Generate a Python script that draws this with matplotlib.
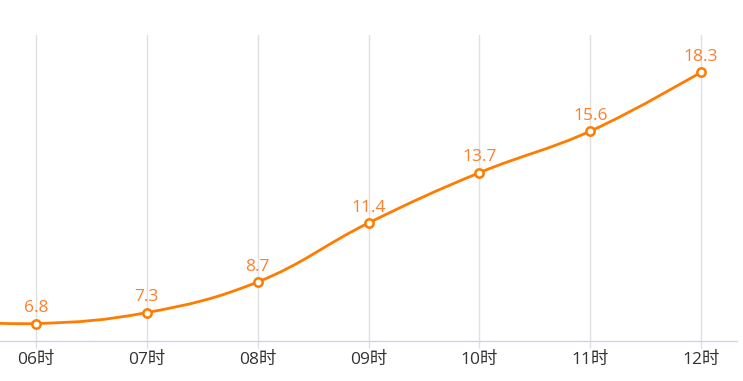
import numpy as np
import matplotlib
matplotlib.use("Agg")
import matplotlib.pyplot as plt
from matplotlib.path import Path
from matplotlib.patches import PathPatch

plt.rcParams['font.family'] = ['Open Sans', 'Noto Sans CJK SC', 'DejaVu Sans']

# Data
hidden_label = "05时"
hidden_value = 7.0          # point just outside the visible window on the left
categories = ["06时", "07时", "08时", "09时", "10时", "11时", "12时"]
values = [6.8, 7.3, 8.7, 11.4, 13.7, 15.6, 18.3]

LINE = "#ff7c00"
LABEL = "#ff7f2a"
GRID = "#e0e0e0"
AXIS = "#ccd6eb"

W, H = 743, 381
fig = plt.figure(figsize=(W / 100, H / 100), dpi=100)
ax = fig.add_axes([0, 1 - 341 / H, 737 / W, (341 - 35) / H])

n = len(categories)
pad = 0.324
ax.set_xlim(-pad, n - 1 + pad)
ax.set_ylim(6, 20)

all_x = np.arange(-1, n)
all_y = np.array([hidden_value] + values)

# Highcharts-like spline computed in display space
fig.canvas.draw()
pts = ax.transData.transform(np.column_stack([all_x, all_y]))
sm = 1.5
den = sm + 1
m = len(pts)
lc = pts.copy()
rc = pts.copy()
for i in range(1, m - 1):
    px, py = pts[i]
    lx, ly = pts[i - 1]
    nx, ny = pts[i + 1]
    lcx = (sm * px + lx) / den
    lcy = (sm * py + ly) / den
    rcx = (sm * px + nx) / den
    rcy = (sm * py + ny) / den
    dl = np.hypot(lcx - px, lcy - py)
    dr = np.hypot(rcx - px, rcy - py)
    la = np.arctan2(lcx - px, lcy - py)
    ra = np.arctan2(rcx - px, rcy - py)
    corr = np.pi / 2 + (la + ra) / 2
    if abs(la - corr) > np.pi / 2:
        corr -= np.pi
    lc[i] = (px + dl * np.sin(corr), py + dl * np.cos(corr))
    rc[i] = (px + dr * np.sin(np.pi + corr), py + dr * np.cos(np.pi + corr))

verts = [pts[0]]
codes = [Path.MOVETO]
for i in range(1, m):
    verts += [rc[i - 1], lc[i], pts[i]]
    codes += [Path.CURVE4] * 3
inv = ax.transData.inverted()
verts_data = inv.transform(np.array(verts))
path = Path(verts_data, codes)
patch = PathPatch(path, facecolor='none', edgecolor=LINE, lw=2, zorder=3,
                  capstyle='round', joinstyle='round')
ax.add_patch(patch)

x = np.arange(n)
ax.plot(x, values, linestyle='none', marker='o', markersize=6,
        markerfacecolor='white', markeredgecolor=LINE, markeredgewidth=1.8,
        zorder=4, clip_on=False)

for xi, v in zip(x, values):
    ax.annotate(f"{v}", (xi, v), xytext=(0, 11), textcoords='offset points',
                ha='center', va='center', color=LABEL, fontsize=12.5, zorder=5)

for xi in x:
    ax.axvline(xi, color=GRID, lw=1, zorder=1)

for s in ['top', 'right', 'left']:
    ax.spines[s].set_visible(False)
ax.spines['bottom'].set_color(AXIS)
ax.spines['bottom'].set_linewidth(1)
ax.set_yticks([])
ax.set_xticks(x)
ax.set_xticklabels(categories)
ax.tick_params(axis='x', length=5, width=1, color=GRID, pad=3,
               labelsize=12.5, labelcolor='#333333')

fig.savefig("out.png", dpi=100)
